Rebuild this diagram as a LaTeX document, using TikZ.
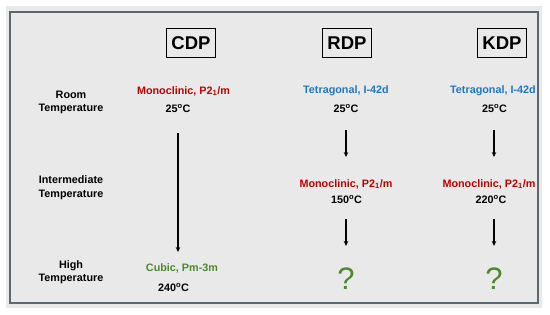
\documentclass[tikz,border=0pt]{standalone}
\usepackage{fontspec}
\setmainfont{Liberation Sans}
\usetikzlibrary{arrows.meta}
\definecolor{panelgray}{HTML}{E9E9E9}
\definecolor{framegray}{HTML}{5C6870}
\definecolor{phasered}{HTML}{C00000}
\definecolor{phaseblue}{HTML}{1F77C4}
\definecolor{phasegreen}{HTML}{4A8A2C}
\begin{document}
\begin{tikzpicture}[x=1pt,y=-1pt,
    lbl/.style={inner sep=0pt,font=\bfseries\fontsize{10.8}{13.5}\selectfont,align=center},
    hdr/.style={draw,line width=1.2pt,minimum width=49pt,minimum height=29pt,inner sep=0pt,font=\bfseries\fontsize{18.5}{20}\selectfont},
    qmark/.style={inner sep=0pt,text=phasegreen,font=\fontsize{31}{31}\selectfont},
    arr/.style={line width=1.4pt,-{Stealth[length=5pt,width=4.5pt]}}]
        \useasboundingbox (0,0) rectangle (550,315);
        \fill[white] (0,0) rectangle (550,315);
        \fill[panelgray] (6,6) rectangle (542,308);
        \draw[framegray,line width=1.8pt] (10,12) rectangle (538,303);
        % compound headers
        \node[hdr] at (191,43) (cdp) {CDP};
        \node[hdr] at (347,43) (rdp) {RDP};
        \node[hdr] at (502,43) (kdp) {KDP};
        % temperature rows
        \node[lbl] at (71,102.5) (roomT) {Room\\Temperature};
        \node[lbl] at (71,187.5) (interT) {Intermediate\\Temperature};
        \node[lbl] at (71,272) (highT) {High\\Temperature};
        % CDP column
        \node[lbl,text=phasered] at (183.5,91) (cdpa) {Monoclinic, P2\textsubscript{1}/m};
        \node[lbl] at (178,109) (cdpt1) {25\textsuperscript{o}C};
        \node[lbl,text=phasegreen] at (182,268) (cdpc) {Cubic, Pm-3m};
        \node[lbl] at (173.5,288) (cdpt3) {240\textsuperscript{o}C};
        % RDP column
        \node[lbl,text=phaseblue] at (346,91) (rdpa) {Tetragonal, I-42d};
        \node[lbl] at (346,109) (rdpt1) {25\textsuperscript{o}C};
        \node[lbl,text=phasered] at (346,184) (rdpb) {Monoclinic, P2\textsubscript{1}/m};
        \node[lbl] at (346.5,200) (rdpt2) {150\textsuperscript{o}C};
        \node[qmark] at (346,279) (rdpq) {?};
        % KDP column
        \node[lbl,text=phaseblue] at (493,91) (kdpa) {Tetragonal, I-42d};
        \node[lbl] at (494.5,109) (kdpt1) {25\textsuperscript{o}C};
        \node[lbl,text=phasered] at (489,184) (kdpb) {Monoclinic, P2\textsubscript{1}/m};
        \node[lbl] at (491,200) (kdpt2) {220\textsuperscript{o}C};
        \node[qmark] at (494,279) (kdpq) {?};
        % transitions
        \draw[arr,shorten <=20pt,shorten >=11pt] (cdpt1.south) -- (cdpt1.south |- cdpc.north);
        \draw[arr,shorten <=17pt,shorten >=22pt] (rdpt1.south) -- (rdpt1.south |- rdpb.north);
        \draw[arr,shorten <=15pt,shorten >=22pt] (rdpq |- rdpt2.south) -- (rdpq.north);
        \draw[arr,shorten <=17pt,shorten >=22pt] (kdpq |- kdpt1.south) -- (kdpq |- kdpb.north);
        \draw[arr,shorten <=15pt,shorten >=22pt] (kdpq |- kdpt2.south) -- (kdpq.north);
    \end{tikzpicture}
\end{document}
